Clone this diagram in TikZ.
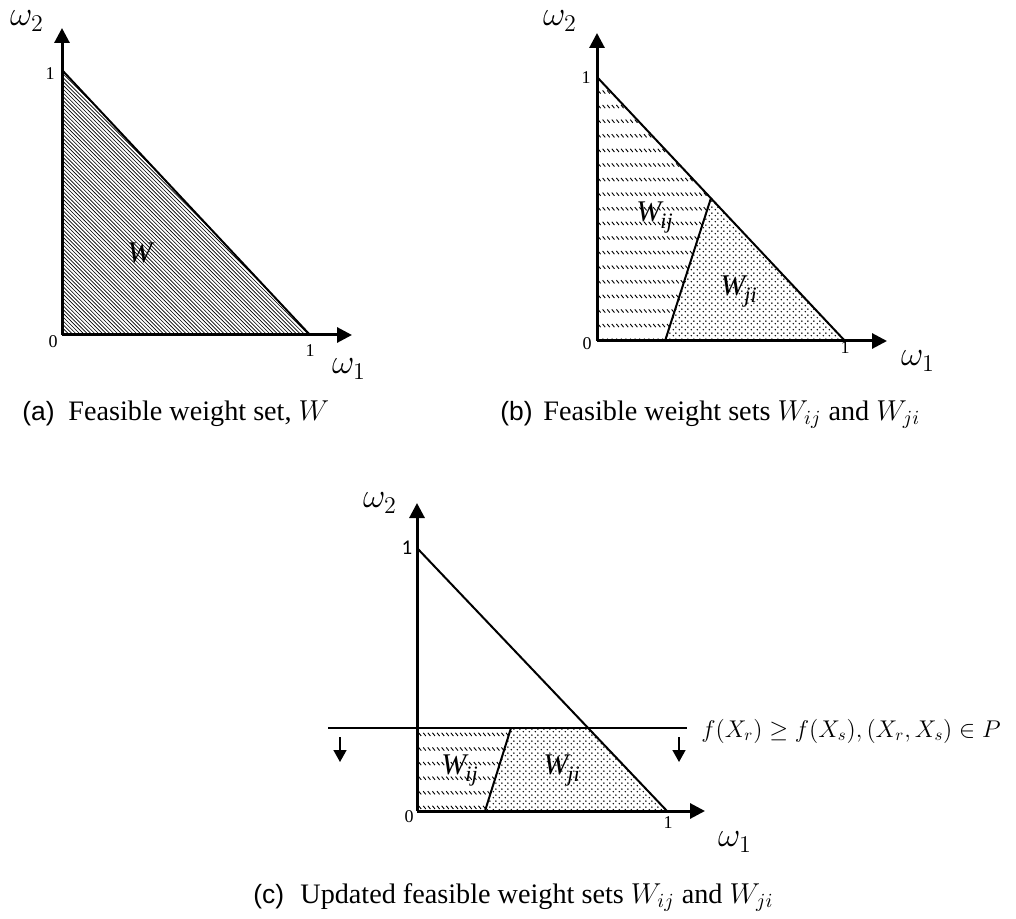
\documentclass[tikz,border=0pt]{standalone}
\usepackage{fontspec}
\setmainfont{Liberation Serif}
\newfontfamily\arialf{Liberation Sans}
\newfontfamily\calib{Carlito}
\usetikzlibrary{arrows.meta,patterns}

\pgfdeclarepatternformonly{densenw}{\pgfqpoint{-0.5pt}{-0.5pt}}{\pgfqpoint{2.4pt}{2.4pt}}{\pgfqpoint{1.9pt}{1.9pt}}{%
  \pgfsetlinewidth{0.32pt}\pgfpathmoveto{\pgfqpoint{0pt}{1.9pt}}\pgfpathlineto{\pgfqpoint{1.95pt}{-0.05pt}}\pgfusepath{stroke}}
\pgfdeclarepatternformonly{rowdash}{\pgfqpoint{-0.5pt}{-0.5pt}}{\pgfqpoint{2.9pt}{8pt}}{\pgfqpoint{2.3pt}{7.3pt}}{%
  \pgfsetlinewidth{0.45pt}\pgfpathmoveto{\pgfqpoint{0pt}{5.5pt}}\pgfpathlineto{\pgfqpoint{1.3pt}{3.9pt}}\pgfusepath{stroke}}
\pgfdeclarepatternformonly{sdots}{\pgfqpoint{0pt}{0pt}}{\pgfqpoint{3pt}{3pt}}{\pgfqpoint{3pt}{3pt}}{%
  \pgfpathcircle{\pgfqpoint{0.75pt}{0.75pt}}{0.45pt}\pgfpathcircle{\pgfqpoint{2.25pt}{2.25pt}}{0.45pt}\pgfusepath{fill}}

\newcommand{\regW}[1]{\itshape W\kern-0.5pt\raisebox{-3.5pt}{\fontsize{11}{12}\selectfont #1}}

\tikzset{
  axis/.style={line width=1.5pt,-{Triangle[width=7.5pt,length=7.5pt]}},
  edge/.style={line width=1pt},
  downarr/.style={line width=0.8pt,-{Triangle[width=6.5pt,length=6pt]}},
  ticklab/.style={font=\fontsize{9}{10}\selectfont,inner sep=0pt},
  axlab/.style={font=\fontsize{17.28}{18}\selectfont,inner sep=0pt},
  reglab/.style={font=\fontsize{15}{16}\selectfont,inner sep=0pt,anchor=base west},
  caplab/.style={font=\fontsize{14.1}{16}\selectfont,inner sep=0pt,anchor=base west},
  capsans/.style={font=\arialf\fontsize{13.2}{16}\selectfont,inner sep=0pt,anchor=base west},
}

\begin{document}
\begin{tikzpicture}[x=0.5pt,y=-0.5pt]
\useasboundingbox (0,0) rectangle (1016,919);
\fill[white] (0,0) rectangle (1016,919);

% ---------- panel (a)
\coordinate (aO) at (62,335);
\coordinate (aY) at (62,28);
\coordinate (aX) at (352,335);
\coordinate (aY1) at (62,70);
\coordinate (aX1) at (310,335);
\fill[pattern=densenw] (aO) -- (aY1) -- (aX1) -- cycle;
\draw[edge] (aY1) -- (aX1);
\draw[axis] (aO) -- (aY);
\draw[axis] (aO) -- (aX);
\node[axlab] (aw2) at (27,21) {$\omega_2$};
\node[axlab] (aw1) at (349,369) {$\omega_1$};
\node[ticklab] (ay1) at (50,74) {1};
\node[ticklab] (a0) at (53,342) {0};
\node[ticklab] (ax1) at (310,351) {1};
\node[reglab] (aW) at (127,263) {\itshape W};
\node[capsans] (capa1) at (22,420) {(a)};
\node[caplab] (capa2) at (68,420) {Feasible weight set, $W$};

% ---------- panel (b)
\coordinate (bO) at (597,341);
\coordinate (bY) at (597,33);
\coordinate (bX) at (887,341);
\coordinate (bY1) at (597,77);
\coordinate (bX1) at (845,341);
\coordinate (bD1) at (665,341);
\coordinate (bD2) at (711,198);
\fill[pattern=rowdash] (bY1) -- (bD2) -- (bD1) -- (bO) -- cycle;
\fill[pattern=sdots] (bD2) -- (bX1) -- (bD1) -- cycle;
\draw[edge] (bY1) -- (bX1);
\draw[edge] (bD1) -- (bD2);
\draw[axis] (bO) -- (bY);
\draw[axis] (bO) -- (bX);
\node[axlab] (bw2) at (560,21) {$\omega_2$};
\node[axlab] (bw1) at (918,361) {$\omega_1$};
\node[ticklab] (by1) at (586,78) {1};
\node[ticklab] (b0) at (587,344) {0};
\node[ticklab] (bx1) at (845,348) {1};
\node[reglab] (bWij) at (636,222) {\regW{ij}};
\node[reglab] (bWji) at (720,296) {\regW{ji}};
\node[capsans] (capb1) at (500,420) {(b)};
\node[caplab] (capb2) at (543,420) {Feasible weight sets $W_{ij}$ and $W_{ji}$};

% ---------- panel (c)
\coordinate (cO) at (417,811);
\coordinate (cY) at (417,503);
\coordinate (cX) at (705,811);
\coordinate (cY1) at (417,548);
\coordinate (cX1) at (667,811);
\coordinate (cHL) at (328,728);
\coordinate (cHR) at (687,728);
\coordinate (cHa) at (417,728);
\coordinate (cHi) at (588,728);
\coordinate (cD1) at (511,728);
\coordinate (cD2) at (485,811);
\fill[pattern=rowdash] (cHa) -- (cD1) -- (cD2) -- (cO) -- cycle;
\fill[pattern=sdots] (cD1) -- (cHi) -- (cX1) -- (cD2) -- cycle;
\draw[edge] (cY1) -- (cX1);
\draw[edge] (cHL) -- (cHR);
\draw[edge] (cD1) -- (cD2);
\draw[axis] (cO) -- (cY);
\draw[axis] (cO) -- (cX);
\coordinate (cA1s) at (340,737);
\coordinate (cA1e) at (340,762);
\coordinate (cA2s) at (679,737);
\coordinate (cA2e) at (679,762);
\draw[downarr] (cA1s) -- (cA1e);
\draw[downarr] (cA2s) -- (cA2e);
\node[axlab] (cw2) at (380,503) {$\omega_2$};
\node[axlab] (cw1) at (735,842) {$\omega_1$};
\node[ticklab,font=\calib\fontsize{10.5}{12}\selectfont] (cy1) at (407,548) {1};
\node[ticklab] (c0) at (409,817) {0};
\node[ticklab] (cx1) at (668,823) {1};
\node[reglab] (cWij) at (441,774) {\regW{ij}};
\node[reglab] (cWji) at (543,774) {\regW{ji}};
\node[font=\fontsize{14.4}{16}\selectfont,inner sep=0pt,anchor=base west,scale=0.84] (cond) at (701,737) {$f(X_r)\geq f(X_s),(X_r,X_s)\in P$};
\node[capsans] (capc1) at (253,903) {(c)};
\node[caplab] (capc2) at (300,903) {Updated feasible weight sets $W_{ij}$ and $W_{ji}$};
\end{tikzpicture}
\end{document}
